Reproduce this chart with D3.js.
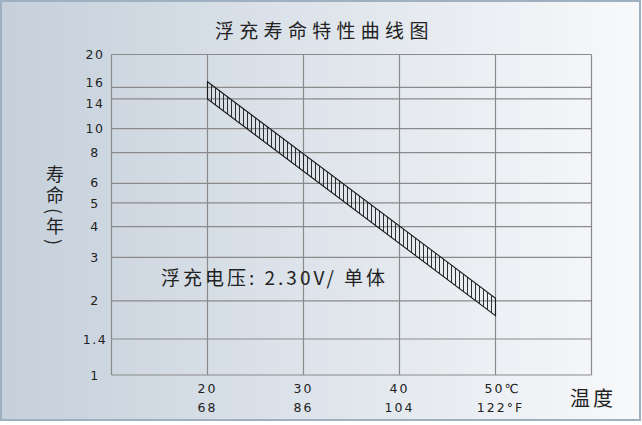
<!DOCTYPE html>
<html><head><meta charset="utf-8">
<script src="https://cdn.jsdelivr.net/npm/d3@7/dist/d3.min.js"></script>
<style>
html,body{margin:0;padding:0;background:#fff;}
#wrap{position:relative;width:642px;height:425px;}
svg{display:block;}
svg text{font-family:"DejaVu Sans","Noto Sans CJK SC",sans-serif;fill:#222;}
.cjk{font-family:"Noto Sans CJK SC","DejaVu Sans",sans-serif;}
.vlab{position:absolute;writing-mode:vertical-rl;text-orientation:mixed;font-family:"Noto Sans CJK SC",sans-serif;color:#222;white-space:nowrap;}
</style></head>
<body>
<div id="wrap"></div>
<script>
// ---- data ----
const title = "浮充寿命特性曲线图";
const yLabel = "寿命(年)";
const xLabel = "温度";
const note = "浮充电压: 2.30V/ 单体";
const xTicksC = [20, 30, 40, 50];
const xTicksF = ["68", "86", "104", "122"];
// grid lines as they sit in the picture (log units) and their printed labels
const yTickValues = [1, 1.4, 2, 3, 4, 5, 6, 8, 10, 13.2, 14.7, 20];
const yTickLabels = ["1", "1.4", "2", "3", "4", "5", "6", "8", "10", "14", "16", "20"];
// life band: temperature (°C) vs upper / lower life (years)
const bandTemp = [20, 50];
const bandUpper = [15.5, 2.05];
const bandLower = [13.2, 1.74];

// ---- layout ----
const W = 642, H = 425;
const wrap = d3.select("#wrap");
const svg = wrap.append("svg").attr("width", W).attr("height", H);
const defs = svg.append("defs");
const grad = defs.append("linearGradient").attr("id", "bg").attr("x1", 0).attr("x2", 1).attr("y1", 0).attr("y2", 0);
grad.append("stop").attr("offset", 0).attr("stop-color", "#c5d0db");
grad.append("stop").attr("offset", 1).attr("stop-color", "#f8f9fb");
svg.append("rect").attr("x", 0).attr("y", 0).attr("width", W).attr("height", 421).attr("fill", "url(#bg)");
svg.append("rect").attr("x", 1).attr("y", 1).attr("width", 639).attr("height", 419)
  .attr("fill", "none").attr("stroke", "#9fb0c0").attr("stroke-width", 2);

const x = d3.scaleLinear().domain([10, 60]).range([111.5, 591.5]);
const y = d3.scaleLog().domain([1, 20]).range([375, 54.5]);

const g = svg.append("g");
// horizontal grid
g.selectAll("line.h").data(yTickValues).join("line")
  .attr("x1", x(10)).attr("x2", x(60))
  .attr("y1", d => y(d)).attr("y2", d => y(d))
  .attr("stroke", "#8a8a8a").attr("stroke-width", 1.2);
// vertical grid
g.selectAll("line.v").data([10, ...xTicksC, 60]).join("line")
  .attr("x1", d => x(d)).attr("x2", d => x(d))
  .attr("y1", y(20)).attr("y2", y(1))
  .attr("stroke", "#8a8a8a").attr("stroke-width", 1.2);

// y tick labels, spreading apart labels that are too close
const labY = yTickValues.map(d => y(d));
const minGap = 21;
for (let i = 1; i < labY.length; i++) {
  const gap = labY[i - 1] - labY[i];
  if (gap < minGap) {
    const push = (minGap - gap) / 2;
    labY[i - 1] += push; labY[i] -= push;
  }
}
g.selectAll("text.yt").data(yTickValues).join("text")
  .attr("x", 95).attr("y", (d, i) => labY[i]).attr("dy", "0.36em")
  .attr("text-anchor", "middle").attr("font-size", 12.5).attr("letter-spacing", 1.5)
  .text((d, i) => yTickLabels[i]);

// x tick labels
xTicksC.forEach((t, i) => {
  const last = i === xTicksC.length - 1;
  const tc = g.append("text").attr("x", x(t)).attr("y", 393).attr("text-anchor", "middle")
    .attr("font-size", 12.5).attr("letter-spacing", 2).text(String(t));
  const tf = g.append("text").attr("x", x(t)).attr("y", 412).attr("text-anchor", "middle")
    .attr("font-size", 12.5).attr("letter-spacing", 2).text(xTicksF[i]);
  if (last) {
    tc.text(t + "℃").attr("dx", 7);
    tf.text(xTicksF[i] + "°F").attr("dx", 5);
  }
});

// band
const lu = d3.interpolateNumber(Math.log10(bandUpper[0]), Math.log10(bandUpper[1]));
const ll = d3.interpolateNumber(Math.log10(bandLower[0]), Math.log10(bandLower[1]));
const frac = t => (t - bandTemp[0]) / (bandTemp[1] - bandTemp[0]);
const up = t => Math.pow(10, lu(frac(t)));
const lo = t => Math.pow(10, ll(frac(t)));
const hatchT = d3.range(bandTemp[0], bandTemp[1] + 1e-6, (bandTemp[1] - bandTemp[0]) / 72);
g.selectAll("line.hatch").data(hatchT).join("line")
  .attr("x1", d => x(d)).attr("x2", d => x(d))
  .attr("y1", d => y(up(d))).attr("y2", d => y(lo(d)))
  .attr("stroke", "#1a1a1a").attr("stroke-width", 0.9);
const poly = [[bandTemp[0], bandUpper[0]], [bandTemp[1], bandUpper[1]], [bandTemp[1], bandLower[1]], [bandTemp[0], bandLower[0]]];
g.append("path").attr("d", d3.line().x(d => x(d[0])).y(d => y(d[1]))(poly) + "Z")
  .attr("fill", "none").attr("stroke", "#1a1a1a").attr("stroke-width", 1.1);

// texts
svg.append("text").attr("class", "cjk").attr("x", 215).attr("y", 38)
  .attr("font-size", 19).attr("letter-spacing", 5.3).text(title);
svg.append("text").attr("class", "cjk").attr("x", 161).attr("y", 285)
  .attr("font-size", 19).attr("letter-spacing", 3).text(note);
svg.append("text").attr("class", "cjk").attr("x", 570).attr("y", 406)
  .attr("font-size", 20).attr("letter-spacing", 3).text(xLabel);

// vertical y label (vertical writing, brackets turn by themselves)
wrap.append("div").attr("class", "vlab")
  .style("left", "46px").style("top", "165px")
  .style("font-size", "18px").style("line-height", "18px").style("letter-spacing", "3.5px")
  .text(yLabel);
</script>
</body></html>
